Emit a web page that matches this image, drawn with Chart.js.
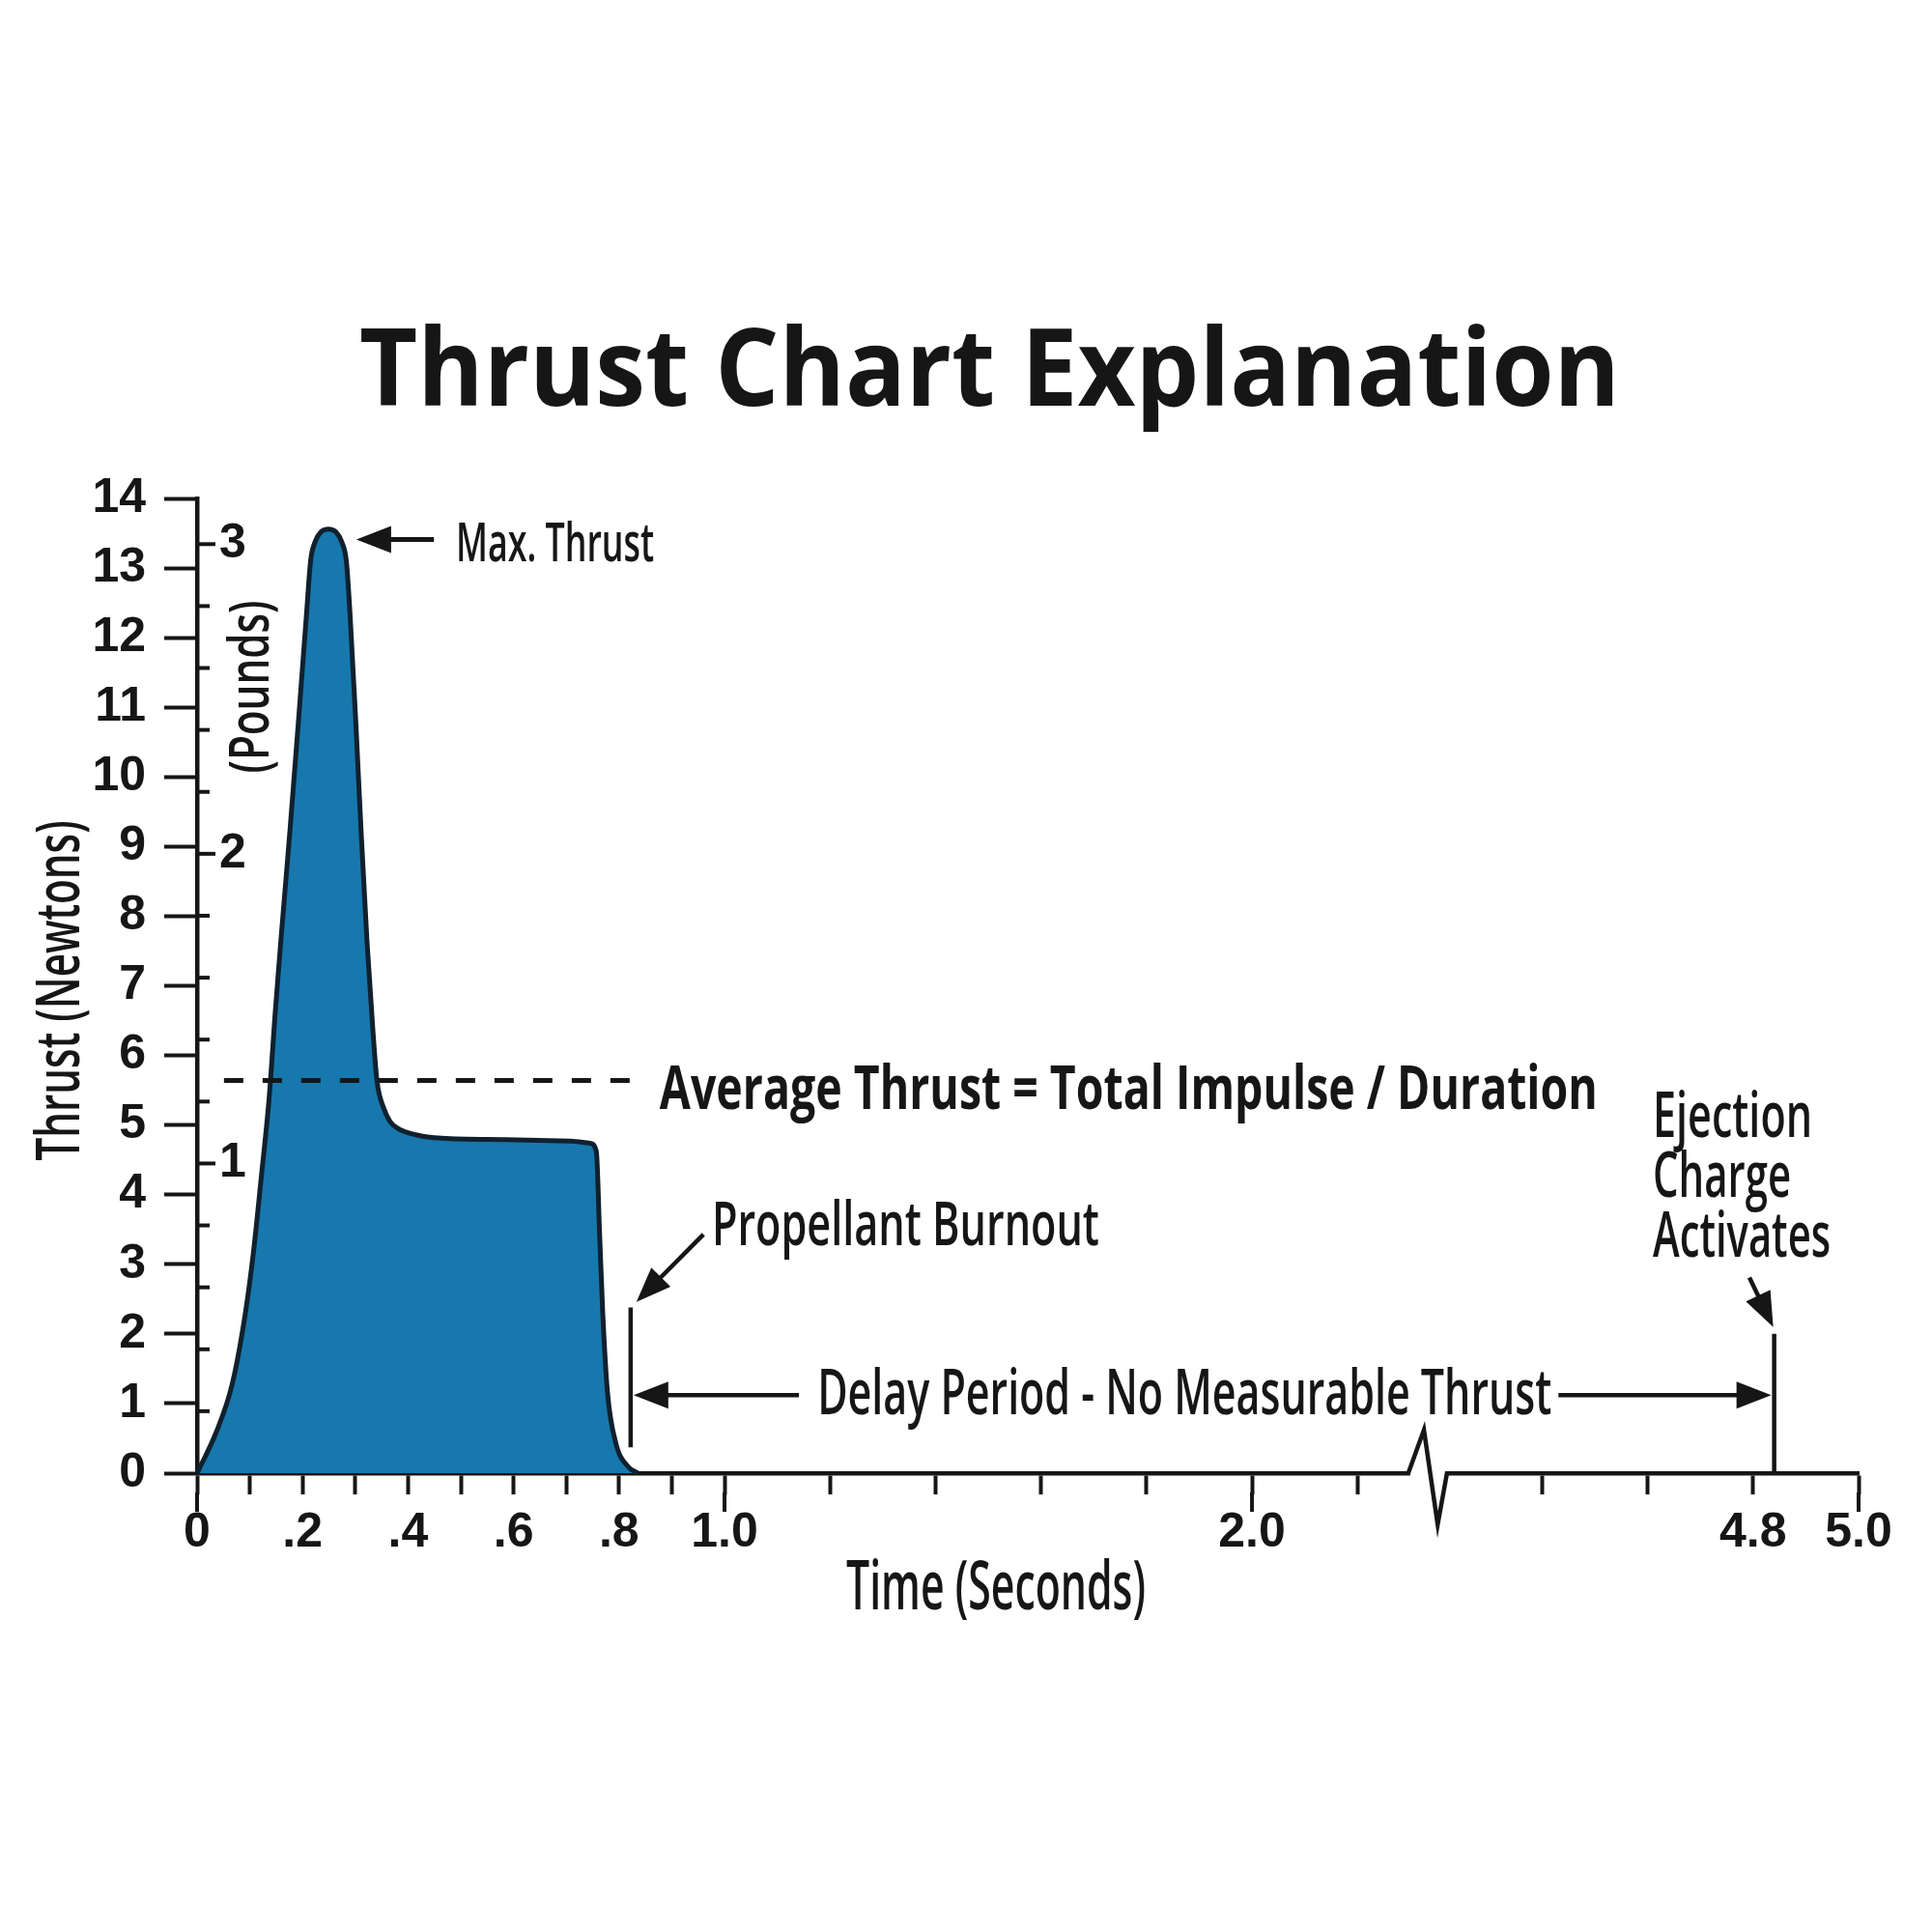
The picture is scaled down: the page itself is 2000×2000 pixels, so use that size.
<!DOCTYPE html>
<html>
<head>
<meta charset="utf-8">
<script src="https://cdn.jsdelivr.net/npm/chart.js@4.4.1/dist/chart.umd.min.js"></script>
<style>
  body { margin: 0; background: #fff; }
</style>
</head>
<body>
<canvas id="thrustChart" width="2000" height="2000"></canvas>
<script>
// thrust curve (seconds, newtons)
const timeS = [0, 0.037, 0.067, 0.092, 0.107, 0.122, 0.137, 0.148, 0.159, 0.176, 0.192, 0.2075, 0.2155, 0.224, 0.235, 0.249,
  0.263, 0.274, 0.283, 0.29, 0.301, 0.311, 0.322, 0.333, 0.341, 0.354, 0.366, 0.379, 0.415, 0.464, 0.586,
  0.708, 0.745, 0.757, 0.763, 0.769, 0.778, 0.794, 0.818, 0.836];
const thrustN = [0, 0.6, 1.29, 2.32, 3.18, 4.27, 5.42, 6.6, 7.66, 9.22, 10.78, 12.34, 13.12, 13.38, 13.52, 13.56,
  13.52, 13.38, 13.1, 12.34, 10.78, 9.22, 7.66, 6.4, 5.64, 5.24, 5.05, 4.96, 4.86, 4.81, 4.79,
  4.77, 4.74, 4.62, 3.47, 2.32, 1.17, 0.43, 0.086, 0];

// time axis ticks (axis is broken between 2.2 s and 4.4 s)
const xTickTimes = [0, 0.1, 0.2, 0.3, 0.4, 0.5, 0.6, 0.7, 0.8, 0.9, 1.0, 1.2, 1.4, 1.6, 1.8, 2.0, 2.2, 4.4, 4.6, 4.8, 5.0];
const xTickLabels = ['0', '', '.2', '', '.4', '', '.6', '', '.8', '', '1.0', '', '', '', '', '2.0', '', '', '', '4.8', '5.0'];
const xMajorTimes = [0, 1.0, 2.0, 5.0];

// second scale in pounds
const poundTicks = [0.2, 0.4, 0.6, 0.8, 1, 1.2, 1.4, 1.6, 1.8, 2, 2.2, 2.4, 2.6, 2.8, 3];
const NEWTONS_PER_POUND = 4.448;

const avgThrust = 5.64;
const burnoutTime = 0.822;
const ejectionTime = 4.84;
const SKIPPED = 1.85;   // seconds cut out at the axis break

function toAxis(t) {
  return t > 3 ? t - SKIPPED : t;
}

const ink = '#161616';

function squeezeText(ctx, text, x, y, width, size, weight, align) {
  ctx.font = weight + ' ' + size + 'px "Open Sans"';
  const s = width / ctx.measureText(text).width;
  ctx.save();
  ctx.translate(x, y);
  ctx.scale(s, 1);
  ctx.textAlign = align || 'left';
  ctx.textBaseline = 'alphabetic';
  ctx.fillStyle = ink;
  ctx.fillText(text, 0, size * 0.357);
  ctx.restore();
}

function upText(ctx, text, cx, cy, width, size) {
  ctx.font = '600 ' + size + 'px "Open Sans"';
  const s = width / ctx.measureText(text).width;
  ctx.save();
  ctx.translate(cx, cy);
  ctx.rotate(-Math.PI / 2);
  ctx.scale(s, 1);
  ctx.textAlign = 'center';
  ctx.fillStyle = ink;
  ctx.fillText(text, 0, size * 0.357);
  ctx.restore();
}

function arrow(ctx, x1, y1, x2, y2, lw) {
  const a = Math.atan2(y2 - y1, x2 - x1);
  const len = 36, half = 14;
  ctx.save();
  ctx.strokeStyle = ink;
  ctx.fillStyle = ink;
  ctx.lineWidth = lw;
  ctx.beginPath();
  ctx.moveTo(x1, y1);
  ctx.lineTo(x2 - Math.cos(a) * len * 0.8, y2 - Math.sin(a) * len * 0.8);
  ctx.stroke();
  ctx.beginPath();
  ctx.moveTo(x2, y2);
  ctx.lineTo(x2 - Math.cos(a) * len - Math.sin(a) * half, y2 - Math.sin(a) * len + Math.cos(a) * half);
  ctx.lineTo(x2 - Math.cos(a) * len + Math.sin(a) * half, y2 - Math.sin(a) * len - Math.cos(a) * half);
  ctx.closePath();
  ctx.fill();
  ctx.restore();
}

const annotate = {
  id: 'annotate',
  afterDraw(chart) {
    const ctx = chart.ctx;
    const xs = chart.scales.x, ys = chart.scales.y, lb = chart.scales.lb;
    const px = t => xs.getPixelForValue(toAxis(t));
    const py = v => ys.getPixelForValue(v);
    const base = py(0);

    ctx.save();
    ctx.strokeStyle = ink;
    ctx.lineCap = 'butt';

    // longer ticks for whole seconds
    ctx.lineWidth = 4;
    xMajorTimes.forEach(t => {
      ctx.beginPath();
      ctx.moveTo(px(t), base + 20);
      ctx.lineTo(px(t), base + 40);
      ctx.stroke();
    });

    // pound ticks on the inner side of the axis
    const ax = xs.left;
    poundTicks.forEach(v => {
      const y = lb.getPixelForValue(v);
      const major = Math.abs(v - Math.round(v)) < 1e-6;
      ctx.beginPath();
      ctx.moveTo(ax, y);
      ctx.lineTo(ax + (major ? 19 : 13), y);
      ctx.stroke();
    });

    // axis break
    const b0 = xs.getPixelForValue(2.300), b1 = xs.getPixelForValue(2.326);
    const b2 = xs.getPixelForValue(2.352), b3 = xs.getPixelForValue(2.366);
    ctx.fillStyle = '#fff';
    ctx.fillRect(b0, base - 4, b3 - b0, 8);
    ctx.lineWidth = 4.5;
    ctx.lineJoin = 'miter';
    ctx.beginPath();
    ctx.moveTo(b0 - 2, base);
    ctx.lineTo(b1, py(0.62));
    ctx.lineTo(b2, py(-0.74));
    ctx.lineTo(b3 + 2, base);
    ctx.stroke();

    // average thrust dashed line
    ctx.lineWidth = 5;
    ctx.setLineDash([20, 20]);
    ctx.beginPath();
    ctx.moveTo(px(0.051), py(avgThrust));
    ctx.lineTo(px(0.826), py(avgThrust));
    ctx.stroke();
    ctx.setLineDash([]);

    // burnout and ejection markers
    ctx.lineWidth = 4.5;
    ctx.beginPath();
    ctx.moveTo(px(burnoutTime), py(2.38));
    ctx.lineTo(px(burnoutTime), py(0.37));
    ctx.moveTo(px(ejectionTime), py(2.0));
    ctx.lineTo(px(ejectionTime), base);
    ctx.stroke();
    ctx.restore();

    // arrows
    arrow(ctx, px(0.449), py(13.41), px(0.302), py(13.41), 5);
    arrow(ctx, px(0.96), py(3.43), px(0.833), py(2.46), 4.5);
    arrow(ctx, px(1.141), py(1.12), px(burnoutTime) + 3, py(1.12), 4.5);
    arrow(ctx, xs.getPixelForValue(2.581), py(1.12), px(ejectionTime) - 3, py(1.12), 4.5);
    arrow(ctx, xs.getPixelForValue(2.943), py(2.81), px(ejectionTime) - 1, py(2.10), 4.5);

    // labels
    squeezeText(ctx, 'Max. Thrust', px(0.491), py(13.38), 205, 56, '600');
    squeezeText(ctx, 'Average Thrust = Total Impulse / Duration', px(0.877), py(5.54), 971, 63, '700');
    squeezeText(ctx, 'Propellant Burnout', px(0.976), py(3.59), 401, 63, '600');
    squeezeText(ctx, 'Delay Period - No Measurable Thrust', px(1.176), py(1.17), 760, 66, '600');
    const ex = xs.getPixelForValue(2.76);
    squeezeText(ctx, 'Ejection', ex, py(5.16), 165, 66, '600');
    squeezeText(ctx, 'Charge', ex, py(4.30), 143, 66, '600');
    squeezeText(ctx, 'Activates', ex, py(3.43), 184, 66, '600');

    // titles
    squeezeText(ctx, 'Thrust Chart Explanation', 372, 380, 1305, 112, '700');
    upText(ctx, 'Thrust (Newtons)', 60, (ys.top + ys.bottom) / 2 + 5, 352, 63);
    upText(ctx, '(Pounds)', 257, 711, 179, 58);
    squeezeText(ctx, 'Time (Seconds)', 876, 1641, 310, 70, '600');
  }
};

new Chart(document.getElementById('thrustChart'), {
  type: 'line',
  data: {
    datasets: [{
      label: 'Thrust',
      data: timeS.map((t, i) => ({ x: toAxis(t), y: thrustN[i] })),
      borderColor: '#10202e',
      borderWidth: 5,
      backgroundColor: '#1778ad',
      fill: 'origin',
      pointRadius: 0,
      cubicInterpolationMode: 'monotone',
      clip: false
    }]
  },
  options: {
    responsive: false,
    devicePixelRatio: 1,
    animation: false,
    layout: { padding: { top: 516, left: 95, right: 76, bottom: 373 } },
    plugins: {
      legend: { display: false },
      tooltip: { enabled: false }
    },
    scales: {
      x: {
        type: 'linear',
        min: 0,
        max: toAxis(5.0),
        afterBuildTicks: scale => {
          scale.ticks = xTickTimes.map(t => ({ value: toAxis(t) }));
        },
        grid: {
          drawOnChartArea: false,
          tickLength: 22,
          tickWidth: 4,
          tickColor: ink
        },
        border: { color: ink, width: 4.5 },
        ticks: {
          autoSkip: false,
          maxRotation: 0,
          padding: 10,
          color: ink,
          font: { family: '"Liberation Sans", Arial, sans-serif', size: 50, weight: 'bold' },
          callback: (value, index) => xTickLabels[index]
        }
      },
      y: {
        min: 0,
        max: 14,
        weight: 1,
        afterFit: scale => { scale.width = 109; },
        ticks: {
          stepSize: 1,
          padding: 19,
          color: ink,
          font: { family: '"Liberation Sans", Arial, sans-serif', size: 50, weight: 'bold' }
        },
        grid: {
          drawOnChartArea: false,
          tickLength: 34,
          tickWidth: 4,
          tickColor: ink
        },
        border: { color: ink, width: 4.5 }
      },
      lb: {
        position: 'left',
        weight: 0,
        min: 0,
        max: 14 / NEWTONS_PER_POUND,
        afterBuildTicks: scale => {
          scale.ticks = poundTicks.map(v => ({ value: v }));
        },
        afterFit: scale => { scale.width = 0; },
        grid: { display: false, drawTicks: false },
        border: { display: false },
        ticks: {
          mirror: true,
          padding: 23,
          color: ink,
          font: { family: '"Liberation Sans", Arial, sans-serif', size: 50, weight: 'bold' },
          callback: v => (Math.abs(v - Math.round(v)) < 1e-6 ? String(Math.round(v)) : '')
        }
      }
    }
  },
  plugins: [annotate]
});
</script>
</body>
</html>
